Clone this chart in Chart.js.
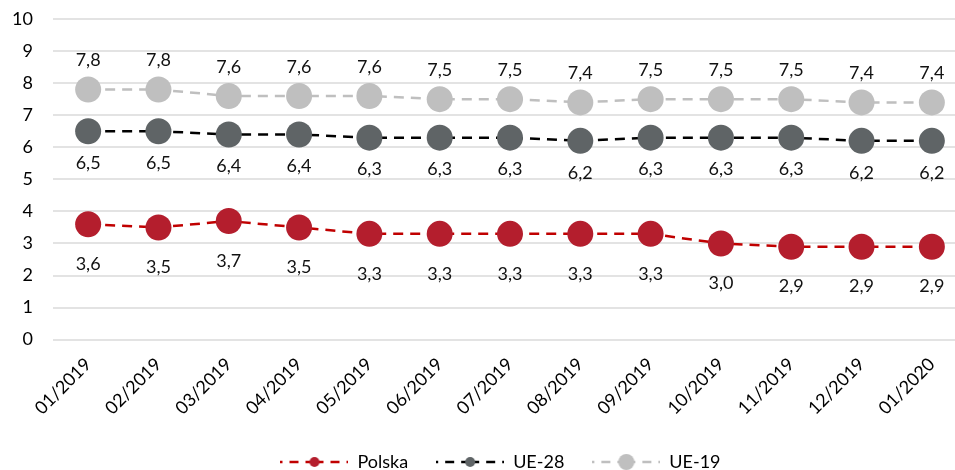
<!DOCTYPE html>
<html><head><meta charset="utf-8">
<script src="https://cdn.jsdelivr.net/npm/chart.js@4.4.0/dist/chart.umd.min.js"></script>
<style>html,body{margin:0;padding:0;overflow:hidden;background:#fff;width:955px;height:470px}
canvas{position:absolute;left:0;top:0}</style>
</head><body><canvas id="c" width="1000" height="470"></canvas>
<script>
const categories = ['01/2019','02/2019','03/2019','04/2019','05/2019','06/2019','07/2019','08/2019','09/2019','10/2019','11/2019','12/2019','01/2020'];
const polska = [3.6,3.5,3.7,3.5,3.3,3.3,3.3,3.3,3.3,3.0,2.9,2.9,2.9];
const ue28 = [6.5,6.5,6.4,6.4,6.3,6.3,6.3,6.2,6.3,6.3,6.3,6.2,6.2];
const ue19 = [7.8,7.8,7.6,7.6,7.6,7.5,7.5,7.4,7.5,7.5,7.5,7.4,7.4];
const seriesNames = ['Polska','UE-28','UE-19'];
const yMin = 0, yMax = 10, yStep = 1;

const FONT = 'Lato';
const fmt = v => v.toFixed(1).replace('.', ',');

function legendImg(lineColor, dotColor, r){
  const w = 68, h = 20;
  const c = document.createElement('canvas'); c.width = w; c.height = h;
  const g = c.getContext('2d');
  g.strokeStyle = lineColor; g.lineWidth = 2.5; g.setLineDash([9,7]);
  g.beginPath(); g.moveTo(w/2, h/2); g.lineTo(w, h/2); g.stroke();
  g.beginPath(); g.moveTo(w/2, h/2); g.lineTo(0, h/2); g.stroke();
  g.setLineDash([]); g.fillStyle = dotColor;
  g.beginPath(); g.arc(w/2, h/2, r, 0, Math.PI*2); g.fill();
  return c;
}
const legendImgs = [
  legendImg('#C00000', '#B41E2D', 5),
  legendImg('#000000', '#5F6466', 5),
  legendImg('#BFBFBF', '#BFBFBF', 8)
];
const labelOffsets = [40, 32, -29];

const valueLabels = {
  id: 'valueLabels',
  afterDatasetsDraw(chart){
    const ctx = chart.ctx;
    ctx.save();
    ctx.font = '18px ' + FONT;
    ctx.fillStyle = '#111';
    ctx.textAlign = 'center';
    ctx.textBaseline = 'middle';
    chart.data.datasets.forEach((ds, i) => {
      const meta = chart.getDatasetMeta(i);
      meta.data.forEach((pt, j) => {
        ctx.fillText(fmt(ds.data[j]), pt.x, pt.y + labelOffsets[i]);
      });
    });
    ctx.restore();
  }
};
const legendShift = {
  id: 'legendShift',
  afterLayout(chart){
    const lg = chart.legend;
    if (lg) { lg.left += 17; lg.right += 17; }
  }
};

function ds(label, data, line, dot){
  return {label, data, borderColor: line, backgroundColor: dot, borderWidth: 2.5,
    borderDash: [10,7], pointRadius: 13, pointHoverRadius: 13, pointBackgroundColor: dot,
    pointBorderColor: dot, pointBorderWidth: 0, tension: 0, fill: false};
}

new Chart(document.getElementById('c'), {
  type: 'line',
  data: {
    labels: categories,
    datasets: [
      ds(seriesNames[0], polska, '#C00000', '#B41E2D'),
      ds(seriesNames[1], ue28, '#000000', '#5F6466'),
      ds(seriesNames[2], ue19, '#BFBFBF', '#BFBFBF')
    ]
  },
  options: {
    responsive: false,
    animation: false,
    devicePixelRatio: 1,
    layout: {padding: {top: 19, right: 33, left: 0, bottom: -11}},
    plugins: {
      tooltip: {enabled: false},
      legend: {
        position: 'bottom',
        labels: {
          usePointStyle: true,
          pointStyleWidth: 68,
          padding: 28,
          font: {family: FONT, size: 18},
          color: '#000',
          generateLabels(chart){
            return chart.data.datasets.map((d, i) => ({
              text: d.label, pointStyle: legendImgs[i], datasetIndex: i,
              fillStyle: 'transparent', strokeStyle: 'transparent', lineWidth: 0,
              hidden: false, fontColor: '#000'
            }));
          }
        }
      }
    },
    scales: {
      x: {
        offset: true,
        grid: {display: false},
        border: {display: false},
        ticks: {minRotation: 45, maxRotation: 45, padding: 6, color: '#000',
          font: {family: FONT, size: 18}}
      },
      y: {
        min: yMin, max: yMax,
        border: {display: false},
        grid: {color: '#E3E3E3', lineWidth: 2, drawTicks: true, tickLength: 20, tickColor: 'rgba(0,0,0,0)'},
        ticks: {stepSize: yStep, padding: 0, color: '#000', font: {family: FONT, size: 18}},
        afterFit(scale){ scale.width = 53; }
      }
    }
  },
  plugins: [valueLabels, legendShift]
});
</script>
</body></html>
